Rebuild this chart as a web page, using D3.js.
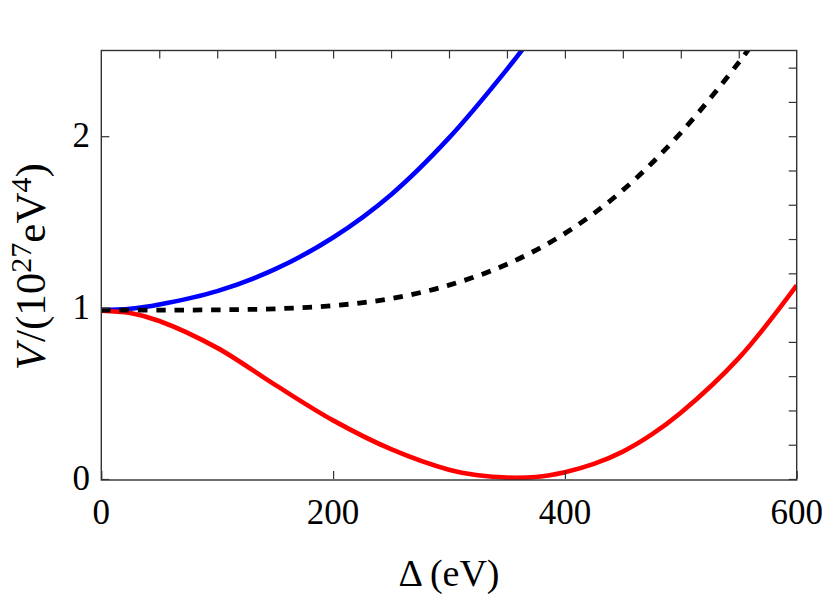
<!DOCTYPE html>
<html>
<head>
<meta charset="utf-8">
<script src="https://cdn.jsdelivr.net/npm/d3@7"></script>
<style>
  html, body { margin: 0; padding: 0; background: #fff; }
  svg { display: block; }
  text { font-family: "Liberation Serif", "DejaVu Serif", serif; fill: #000; }
</style>
</head>
<body>
<svg id="chart" width="830" height="609"></svg>
<script>
// ---- data ----
const blueDelta = [0, 25, 50, 100, 150, 200, 250, 300, 350, 375];
const blueV     = [0.985, 0.993, 1.018, 1.096, 1.224, 1.409, 1.659, 1.99, 2.39, 2.61];

const blackDelta = [0, 50, 100, 150, 200, 250, 300, 350, 400, 450, 500, 550, 575];
const blackV     = [0.985, 0.985, 0.987, 0.993, 1.011, 1.053, 1.131, 1.253, 1.433, 1.685, 2.02, 2.43, 2.66];

const redDelta = [0, 25, 50, 100, 150, 200, 250, 300, 325, 350, 375, 400, 425, 450, 475, 500, 550, 600];
const redV     = [0.982, 0.968, 0.922, 0.765, 0.549, 0.342, 0.174, 0.054, 0.022, 0.008, 0.012, 0.04, 0.088, 0.16, 0.26, 0.386, 0.705, 1.13];

const xMajorTicks = [0, 200, 400, 600];
const yMajorTicks = [0, 1, 2];
const xTopTicks = [50, 100, 150, 200, 250, 300, 350, 400, 450, 500, 550];
const yRightTicks = [0, 0.2, 0.4, 0.6, 0.8, 1.0, 1.2, 1.4, 1.6, 1.8, 2.0, 2.2, 2.4];

// ---- layout ----
const svg = d3.select("#chart");
const L = 101.3, R = 796.7, T = 50.5, B = 479;
const x = d3.scaleLinear().domain([0, 600]).range([L, R]);
const y = d3.scaleLinear().domain([0, 2.5]).range([B, T]);

svg.append("defs").append("clipPath").attr("id", "clip")
  .append("rect").attr("x", L).attr("y", T).attr("width", R - L).attr("height", B + 1.5 - T);

const line = d3.line().x(d => x(d[0])).y(d => y(d[1])).curve(d3.curveCatmullRom.alpha(0.5));
const plot = svg.append("g").attr("clip-path", "url(#clip)");

plot.append("path").datum(blueDelta.map((d, i) => [d, blueV[i]]))
  .attr("d", line).attr("fill", "none").attr("stroke", "#0000ff").attr("stroke-width", 4.6);
plot.append("path").datum(redDelta.map((d, i) => [d, redV[i]]))
  .attr("d", line).attr("fill", "none").attr("stroke", "#ff0000").attr("stroke-width", 4.6);
plot.append("path").datum(blackDelta.map((d, i) => [d, blackV[i]]))
  .attr("d", line).attr("fill", "none").attr("stroke", "#000").attr("stroke-width", 4.8)
  .attr("stroke-dasharray", "9.5,8.8");

// ---- frame & ticks ----
const axColor = "#333";
const tl = 8;
function styleAxis(g) {
  g.select(".domain").remove();
  g.selectAll(".tick line").attr("stroke", axColor).attr("stroke-width", 1.2);
  g.selectAll(".tick text").remove();
}
svg.append("g").attr("transform", `translate(0,${B})`)
  .call(d3.axisBottom(x).tickValues(xMajorTicks).tickSizeInner(-tl).tickSizeOuter(0)).call(styleAxis);
svg.append("g").attr("transform", `translate(0,${T})`)
  .call(d3.axisTop(x).tickValues(xTopTicks).tickSizeInner(-tl).tickSizeOuter(0)).call(styleAxis);
svg.append("g").attr("transform", `translate(${L},0)`)
  .call(d3.axisLeft(y).tickValues(yMajorTicks).tickSizeInner(-tl).tickSizeOuter(0)).call(styleAxis);
svg.append("g").attr("transform", `translate(${R},0)`)
  .call(d3.axisRight(y).tickValues(yRightTicks).tickSizeInner(-tl).tickSizeOuter(0)).call(styleAxis);

svg.append("rect").attr("x", L).attr("y", T).attr("width", R - L).attr("height", B + 1 - T)
  .attr("fill", "none").attr("stroke", axColor).attr("stroke-width", 1.4);

// ---- tick labels ----
svg.append("g").selectAll("text").data(xMajorTicks).join("text")
  .attr("x", d => x(d)).attr("y", 524).attr("text-anchor", "middle")
  .attr("font-size", 35).text(d => d);
svg.append("g").selectAll("text").data(yMajorTicks).join("text")
  .attr("x", 90).attr("y", d => y(d) + 11).attr("text-anchor", "end")
  .attr("font-size", 35).text(d => d);

// ---- axis titles ----
const xt = svg.append("text").attr("x", (L + R) / 2).attr("y", 586)
  .attr("text-anchor", "middle").attr("font-size", 38);
xt.append("tspan").text("Δ");
xt.append("tspan").attr("dx", 7).text("(eV)");

const yt = svg.append("text").attr("transform", `translate(45,${(T + B) / 2 + 2}) rotate(-90)`)
  .attr("text-anchor", "middle").attr("font-size", 43);
yt.append("tspan").attr("font-style", "italic").text("V");
yt.append("tspan").attr("dx", 2).text("/(10");
yt.append("tspan").attr("font-size", 30).attr("dy", -14).text("27");
yt.append("tspan").attr("dy", 14).text("eV");
yt.append("tspan").attr("font-size", 30).attr("dy", -14).text("4");
yt.append("tspan").attr("dy", 14).text(")");
</script>
</body>
</html>
